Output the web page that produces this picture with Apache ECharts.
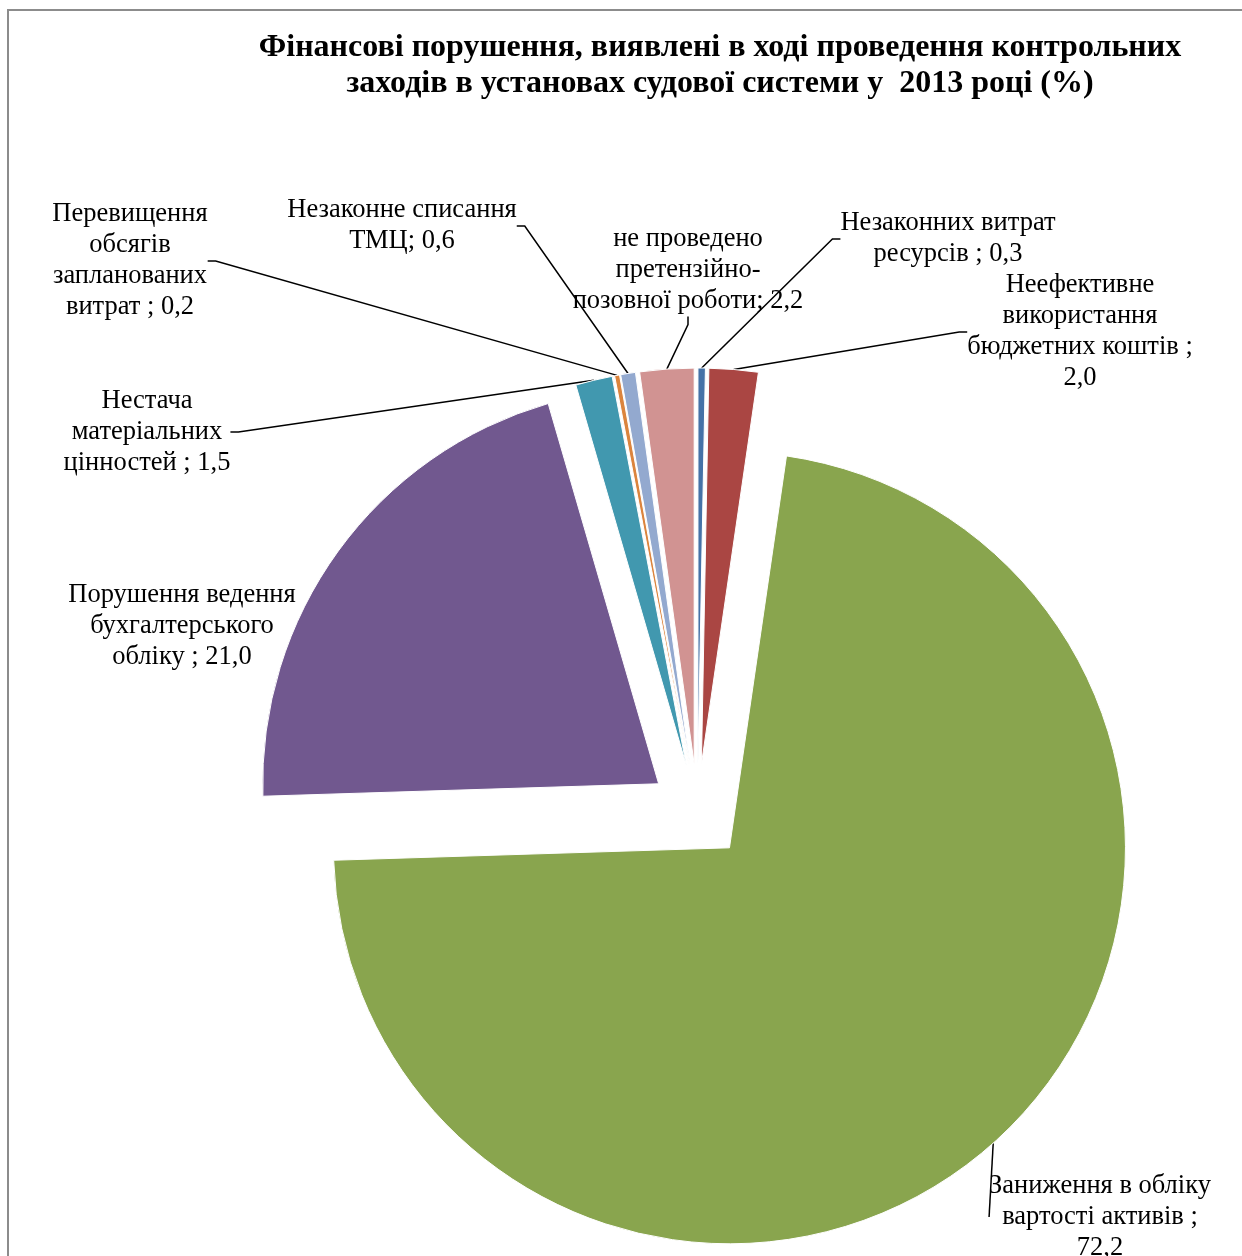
<!DOCTYPE html>
<html><head><meta charset="utf-8">
<script src="https://cdn.jsdelivr.net/npm/echarts@6/dist/echarts.min.js"></script>
<style>html,body{margin:0;padding:0;background:#fff}#c{width:1242px;height:1256px}</style>
</head><body><div id="c"></div>
<script>
const categories = [
  'Незаконних витрат\nресурсів ',
  'Неефективне\nвикористання\nбюджетних коштів ',
  'Заниження в обліку\nвартості активів ',
  'Порушення ведення\nбухгалтерського\nобліку ',
  'Нестача\nматеріальних\nцінностей ',
  'Перевищення\nобсягів\nзапланованих\nвитрат ',
  'Незаконне списання\nТМЦ',
  'не проведено\nпретензійно-\nпозовної роботи'
];
const values = [0.3, 2.0, 72.2, 21.0, 1.5, 0.2, 0.6, 2.2];
const valueOnNewLine = [false, true, true, false, false, false, false, false];
const colors = ['#4572A7', '#AA4643', '#89A54E', '#71588F', '#4198AF', '#DB843D', '#93A9CF', '#D19392'];
const showLeader = [true, true, true, false, true, true, true, true];
// label centres (layout, not data)
const labelCenters = [[948, 239], [1080, 332], [1100, 1217], [182, 626], [147, 432], [130, 261], [402, 226], [688, 270]];

const titleText = 'Фінансові порушення, виявлені в ході проведення контрольних\nзаходів в установах судової системи у  2013 році (%)';

const fmt = v => v.toFixed(1).replace('.', ',');

// pie geometry
const pieCenter = [697.5, 812];
const pieRadius = 396;
const explode = 48;

const total = values.reduce((a, b) => a + b, 0);
let cum = 0;
const series = values.map((v, i) => {
  const mid = (cum + v / 2) / total * 2 * Math.PI; // clockwise from 12 o'clock
  cum += v;
  const c = [pieCenter[0] + explode * Math.sin(mid), pieCenter[1] - explode * Math.cos(mid)];
  return {
    type: 'pie',
    center: c,
    radius: pieRadius,
    startAngle: 90,
    clockwise: true,
    silent: true,
    avoidLabelOverlap: false,
    emphasis: {disabled: true},
    itemStyle: {borderColor: '#fff', borderWidth: 1},
    data: values.map((w, j) => ({
      name: categories[j], value: w,
      itemStyle: j === i ? {color: colors[j]} : {color: 'rgba(0,0,0,0)', borderWidth: 0},
      label: {show: j === i},
      labelLine: {show: j === i && showLeader[j]}
    })),
    label: {
      position: 'outside', color: '#000',
      fontFamily: 'Liberation Serif', fontSize: 26.5, lineHeight: 31, align: 'center',
      formatter: p => p.name + ';' + (valueOnNewLine[p.dataIndex] ? '\n' : ' ') + fmt(values[p.dataIndex])
    },
    labelLine: {length: 20, length2: 8, lineStyle: {color: '#000', width: 1.5}},
    labelLayout: p => ({
      x: labelCenters[p.dataIndex][0], y: labelCenters[p.dataIndex][1],
      align: 'center', verticalAlign: 'middle'
    })
  };
});

const chart = echarts.init(document.getElementById('c'), null, {renderer: 'canvas'});
chart.setOption({
  animation: false,
  backgroundColor: '#fff',
  graphic: [
    {type: 'rect', silent: true, shape: {x: 8, y: 10, width: 1300, height: 1300},
     style: {fill: 'none', stroke: '#8c8c8c', lineWidth: 2}},
    {type: 'text', silent: true, x: 720, y: 29.5,
     style: {text: titleText, align: 'center', verticalAlign: 'top',
             font: 'bold 32px "Liberation Serif"', lineHeight: 36, fill: '#000'}}
  ],
  series: series
});
</script></body></html>
